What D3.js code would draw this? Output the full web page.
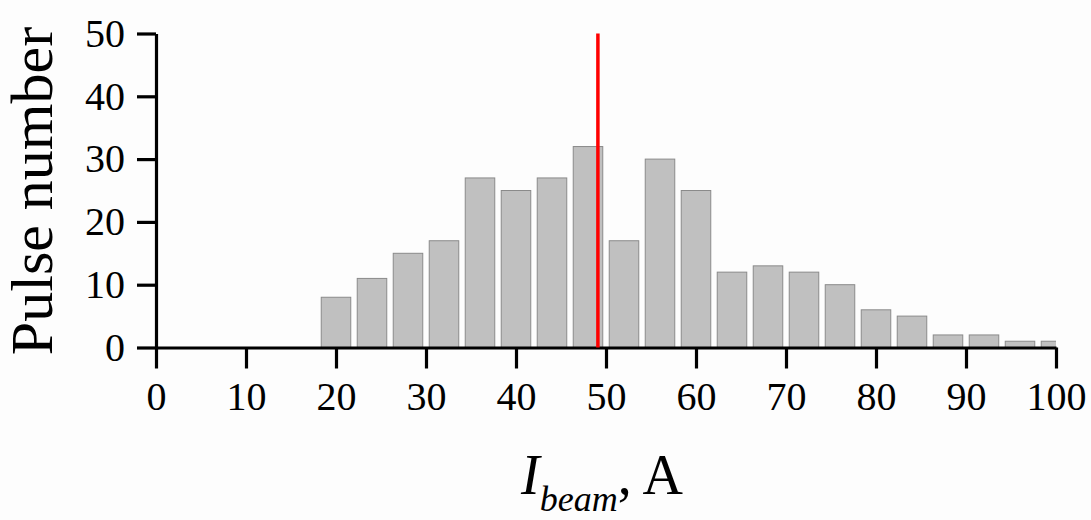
<!DOCTYPE html>
<html>
<head>
<meta charset="utf-8">
<script src="https://cdn.jsdelivr.net/npm/d3@7"></script>
<style>
  body { margin: 0; background: #fdfdfd; }
  svg { display: block; }
  text { font-family: "Liberation Serif", "Times New Roman", serif; fill: #000; }
</style>
</head>
<body>
<div id="chart-container"></div>
<script>
// Histogram data: bin centres (A) and pulse counts
var binCenters = [20, 24, 28, 32, 36, 40, 44, 48, 52, 56, 60, 64, 68, 72, 76, 80, 84, 88, 92, 96, 100];
var counts = [8, 11, 15, 17, 27, 25, 27, 32, 17, 30, 25, 12, 13, 12, 10, 6, 5, 2, 2, 1, 1];
var meanCurrent = 49.1;
var xTicks = [0, 10, 20, 30, 40, 50, 60, 70, 80, 90, 100];
var yTicks = [0, 10, 20, 30, 40, 50];

var totalWidth = 1091, totalHeight = 520;

var svg = d3.select("#chart-container")
  .append("svg")
  .attr("width", totalWidth)
  .attr("height", totalHeight);

// Scales
var xScale = d3.scaleLinear().domain([0, 100]).range([156, 1056]);
var yScale = d3.scaleLinear().domain([0, 50]).range([347.5, 33.5]);

// Clip bars at the end of the x axis
svg.append("clipPath")
  .attr("id", "plot-clip")
  .append("rect")
  .attr("x", xScale(0))
  .attr("y", 0)
  .attr("width", xScale(100) - xScale(0))
  .attr("height", yScale(0));

var binWidth = 4;
var barFrac = 0.82;

// Bars
svg.append("g")
  .attr("clip-path", "url(#plot-clip)")
  .selectAll("rect")
  .data(binCenters)
  .enter()
  .append("rect")
  .attr("x", function(d) { return xScale(d - binWidth * barFrac / 2); })
  .attr("width", function(d) { return xScale(binWidth * barFrac) - xScale(0); })
  .attr("y", function(d, i) { return yScale(counts[i]); })
  .attr("height", function(d, i) { return yScale(0) - yScale(counts[i]); })
  .attr("fill", "#c0c0c0")
  .attr("stroke", "#8a8a8a")
  .attr("stroke-width", 1);

// Y axis
var yAxis = svg.append("g")
  .attr("transform", "translate(" + xScale(0) + ",0)")
  .call(d3.axisLeft(yScale).tickValues(yTicks).tickSize(19).tickSizeOuter(0).tickPadding(12));

// X axis
var xAxis = svg.append("g")
  .attr("transform", "translate(0," + yScale(0) + ")")
  .call(d3.axisBottom(xScale).tickValues(xTicks).tickSize(21).tickSizeOuter(0).tickPadding(13));

[yAxis, xAxis].forEach(function(ax) {
  ax.selectAll("path.domain").attr("stroke", "#000").attr("stroke-width", 3.2);
  ax.selectAll(".tick line").attr("stroke", "#000").attr("stroke-width", 3.2);
  ax.selectAll(".tick text")
    .attr("fill", "#000")
    .style("font-family", "'Liberation Serif', 'Times New Roman', serif")
    .style("font-size", "40px");
});

// Mean beam current marker
svg.append("line")
  .attr("x1", xScale(meanCurrent))
  .attr("x2", xScale(meanCurrent))
  .attr("y1", yScale(50))
  .attr("y2", yScale(0))
  .attr("stroke", "#ff0000")
  .attr("stroke-width", 3.5);

// Y axis label
svg.append("text")
  .attr("transform", "translate(52," + 191 + ") rotate(-90)")
  .attr("text-anchor", "middle")
  .style("font-size", "60px")
  .text("Pulse number");

// X axis label: I_beam, A
var xLabel = svg.append("text")
  .attr("x", 602)
  .attr("y", 494)
  .attr("text-anchor", "middle")
  .style("font-size", "56px");
xLabel.append("tspan").style("font-style", "italic").text("I");
xLabel.append("tspan").style("font-style", "italic").style("font-size", "36px")
  .attr("dy", 17).text("beam");
xLabel.append("tspan").attr("dy", -17).text(", A");
</script>
</body>
</html>
